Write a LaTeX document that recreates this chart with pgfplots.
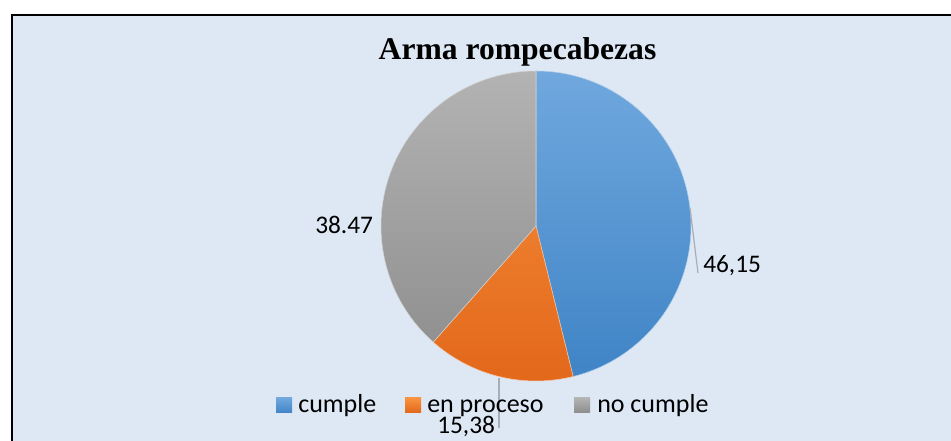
\documentclass[border=0pt]{standalone}
\usepackage{pgfplots}
\usepackage{pgfplotstable}
\pgfplotsset{compat=1.18}
\usepackage{fontspec}
\setmainfont{Carlito}
\newfontfamily\titlefont{Liberation Serif}
\definecolor{bgc}{HTML}{DDE8F4}
\definecolor{bTop}{HTML}{70A8DE}
\definecolor{bBot}{HTML}{3F84C6}
\definecolor{oTop}{HTML}{F8923F}
\definecolor{oBot}{HTML}{E2671A}
\definecolor{gTop}{HTML}{B3B3B3}
\definecolor{gBot}{HTML}{8C8C8C}
\definecolor{leader}{HTML}{A6AEB8}
\pgfplotstableread{
label value
cumple 46.15
enproceso 15.38
nocumple 38.47
}\piedata
\begin{document}
\begin{tikzpicture}
\pgfplotstablegetelem{0}{value}\of\piedata \let\va\pgfplotsretval
\pgfplotstablegetelem{1}{value}\of\piedata \let\vb\pgfplotsretval
\pgfplotstablegetelem{2}{value}\of\piedata \let\vc\pgfplotsretval
\pgfmathsetmacro\aZ{90}
\pgfmathsetmacro\aA{90-3.6*\va}
\pgfmathsetmacro\aB{\aA-3.6*\vb}
\pgfmathsetmacro\aC{\aB-3.6*\vc}
\begin{axis}[
  scale only axis, width=713.25pt, height=330.75pt,
  xmin=0, xmax=951, ymin=0, ymax=441, y dir=reverse,
  axis lines=none, clip=false, ticks=none,
]
% background and frame
\fill[bgc] (axis cs:12,15) rectangle (axis cs:951,441);
\draw[black, line width=1.5pt] (axis cs:11.5,441) -- (axis cs:11.5,15) -- (axis cs:951,15);
% title
\node[anchor=base, font=\titlefont\bfseries\fontsize{23.7pt}{26pt}\selectfont] at (axis cs:517.5,60) {Arma rompecabezas};
% slices
\path[top color=bTop, bottom color=bBot, draw=white!60!bBot, line width=0.4pt]
  (axis cs:536,226) -- ++(\aZ:116.25pt) arc[start angle=\aZ, end angle=\aA, radius=116.25pt] -- cycle;
\path[top color=oTop!50!oBot, bottom color=oBot, draw=white!60!oBot, line width=0.4pt]
  (axis cs:536,226) -- ++(\aA:116.25pt) arc[start angle=\aA, end angle=\aB, radius=116.25pt] -- cycle;
\path[top color=gTop, bottom color=gTop!12!gBot, draw=white!60!gBot, line width=0.4pt]
  (axis cs:536,226) -- ++(\aB:116.25pt) arc[start angle=\aB, end angle=\aC, radius=116.25pt] -- cycle;
% leader lines
\draw[leader, line width=0.9pt] (axis cs:690,208) -- (axis cs:698,273);
\draw[leader, line width=0.9pt] (axis cs:499,378) -- (axis cs:499,428);
% data labels
\node[anchor=base west, inner sep=0pt, font=\fontsize{19pt}{22pt}\selectfont] at (axis cs:703,273) {46,15};
\node[anchor=base west, inner sep=0pt, font=\fontsize{19pt}{22pt}\selectfont] at (axis cs:315,234) {38.47};
\node[anchor=base west, inner sep=0pt, font=\fontsize{19pt}{22pt}\selectfont] at (axis cs:437,434) {15,38};
% legend
\path[top color=bTop, bottom color=bBot] (axis cs:276,398) rectangle (axis cs:292,413);
\path[top color=oTop, bottom color=oBot] (axis cs:405,398) rectangle (axis cs:421,413);
\path[top color=gTop, bottom color=gBot] (axis cs:574,398) rectangle (axis cs:590,413);
\node[anchor=base west, inner sep=0pt, font=\fontsize{19.5pt}{22pt}\selectfont] at (axis cs:298,413) {cumple};
\node[anchor=base west, inner sep=0pt, font=\fontsize{19.5pt}{22pt}\selectfont] at (axis cs:427,413) {en proceso};
\node[anchor=base west, inner sep=0pt, font=\fontsize{19.5pt}{22pt}\selectfont] at (axis cs:597,413) {no cumple};
\end{axis}
\pgfresetboundingbox
\useasboundingbox (current axis.south west) rectangle (current axis.north east);
\end{tikzpicture}
\end{document}
